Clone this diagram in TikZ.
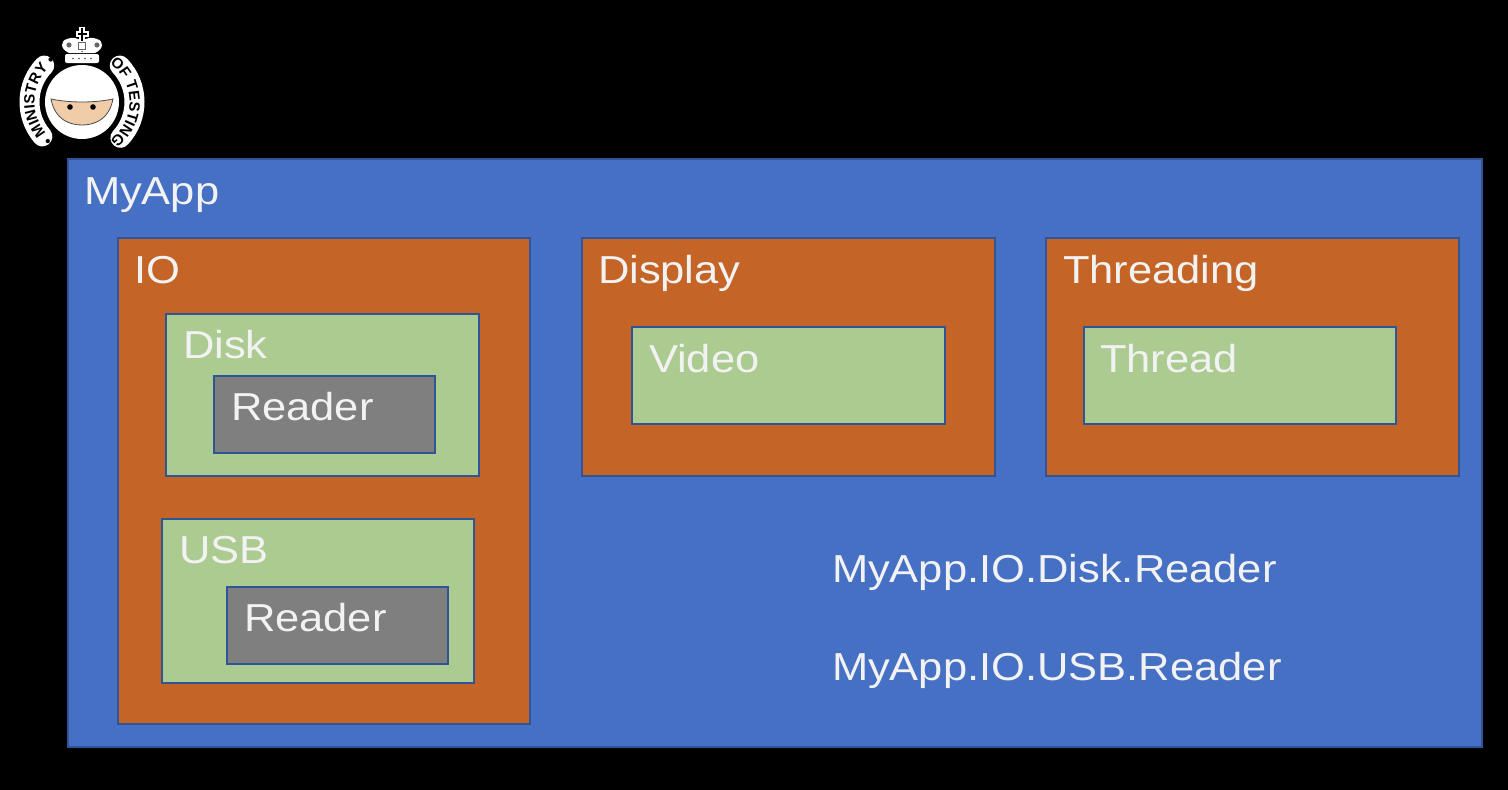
\documentclass[tikz,border=0pt]{standalone}
\usepackage{fontspec}
\setmainfont{Liberation Sans}
\newfontfamily\stretchfont[FakeStretch=1.115]{Liberation Sans}
\newfontfamily\logofont{Liberation Sans}
\usetikzlibrary{decorations.text}
\definecolor{appblue}{HTML}{4570C4}
\definecolor{ioorange}{HTML}{C46527}
\definecolor{leafgreen}{HTML}{ABCB90}
\definecolor{classgray}{HTML}{7F7F7F}
\definecolor{edgeblue}{HTML}{2F5597}
\definecolor{labelwhite}{HTML}{F2F2F2}
\definecolor{skintan}{HTML}{F0CDA8}
\tikzset{
  box/.style={draw=edgeblue,line width=1.3pt,anchor=north west,inner sep=0pt,outer sep=0pt},
  appbox/.style={box,fill=appblue},
  nsbox/.style={box,fill=ioorange},
  leafbox/.style={box,fill=leafgreen},
  classbox/.style={box,fill=classgray},
  lab/.style={anchor=base west,inner sep=0pt,outer sep=0pt,text=labelwhite,font=\stretchfont\fontsize{39}{44}\selectfont},
  logoband/.style={draw=white,line width=20pt,line cap=round},
}
\begin{document}
\begin{tikzpicture}[x=1pt,y=-1pt]
\useasboundingbox (0,0) rectangle (1508,790);
\fill[black] (0,0) rectangle (1508,790);
% boxes
\node[appbox,minimum width=1414pt,minimum height=588pt] (myapp) at (68,159) {};
\node[nsbox,minimum width=412pt,minimum height=486pt] (io) at (118,238) {};
\node[nsbox,minimum width=413pt,minimum height=238pt] (display) at (582,238) {};
\node[nsbox,minimum width=413pt,minimum height=238pt] (threading) at (1046,238) {};
\node[leafbox,minimum width=313pt,minimum height=162pt] (disk) at (166,314) {};
\node[classbox,minimum width=221pt,minimum height=77pt] (reader1) at (214,376) {};
\node[leafbox,minimum width=312pt,minimum height=164pt] (usb) at (162,519) {};
\node[classbox,minimum width=221pt,minimum height=77pt] (reader2) at (227,587) {};
\node[leafbox,minimum width=313pt,minimum height=97pt] (video) at (632,327) {};
\node[leafbox,minimum width=312pt,minimum height=97pt] (thread) at (1084,327) {};
% labels
\node[lab] (tmyapp) at (84,204) {MyApp};
\node[lab] (tio) at (134,283) {IO};
\node[lab] (tdisplay) at (598,283) {Display};
\node[lab] (tthreading) at (1063,283) {Threading};
\node[lab] (tdisk) at (183,358) {Disk};
\node[lab] (treader1) at (231,420) {Reader};
\node[lab] (tusb) at (179,563) {USB};
\node[lab] (treader2) at (244,631) {Reader};
\node[lab] (tvideo) at (649,372) {Video};
\node[lab] (tthread) at (1100,372) {Thread};
\node[lab] (tpath1) at (832,582) {MyApp.IO.Disk.Reader};
\node[lab] (tpath2) at (832,680) {MyApp.IO.USB.Reader};
% logo
\begin{scope}[shift={(82,102)},x=1pt,y=1pt]
  % bands
  \draw[logoband] (221:52.5) arc[start angle=221,end angle=136,radius=52.5];
  \draw[logoband] (44:52.5) arc[start angle=44,end angle=-43,radius=52.5];
  % head
  \fill[white] (0,0) circle[radius=37];
  % face
  \draw[fill=skintan,draw=black!70,line width=0.8pt] (-31,3) .. controls (-27,-18) and (-12,-23) .. (0,-23) .. controls (12,-23) and (27,-18) .. (31,3) .. controls (12,-1) and (-12,-1) .. cycle;
  \fill[black] (-12,-5) circle[radius=2.8];
  \fill[black] (11,-5) circle[radius=2.8];
  % band text
  \path[decorate,decoration={text along path,text align=center,
    text={|\logofont\bfseries\fontsize{15}{15}\selectfont\color{black}|• MINISTRY •}}]
    (262:47.5) arc[start angle=262,end angle=94,radius=47.5];
  \path[decorate,decoration={text along path,text align=center,
    text={|\logofont\bfseries\fontsize{15}{15}\selectfont\color{black}|OF TESTING}}]
    (80:47.5) arc[start angle=80,end angle=-80,radius=47.5];
  % crown
  \begin{scope}[shift={(0,39)}]
    \fill[white,rounded corners=2pt] (-17,0) rectangle (17,9);
    \foreach \x in {-9,-3,3,9} \fill[black!70] (\x,4.5) circle[radius=0.9];
    \fill[white] (-13,10) .. controls (-22,14) and (-22,22) .. (-15,24)
      .. controls (-10,26) and (-6,25) .. (-4,24) -- (4,24)
      .. controls (6,25) and (10,26) .. (15,24)
      .. controls (22,22) and (22,14) .. (13,10) -- cycle;
    \fill[white] (-3,20) rectangle (3,36);
    \fill[white] (-6.5,26) rectangle (6.5,32);
    \fill[black] (-1.2,22) rectangle (1.2,35);
    \fill[black] (-4.5,28) rectangle (4.5,30);
    \fill[black!60] (-13,18) circle[radius=2.6];
    \fill[black!60] (15,18) circle[radius=2.6];
    \draw[black!60,line width=0.7pt] (-3.5,14) rectangle (3.5,21);
    \fill[black!60] (0,11.5) circle[radius=0.8];
  \end{scope}
\end{scope}
\end{tikzpicture}
\end{document}
